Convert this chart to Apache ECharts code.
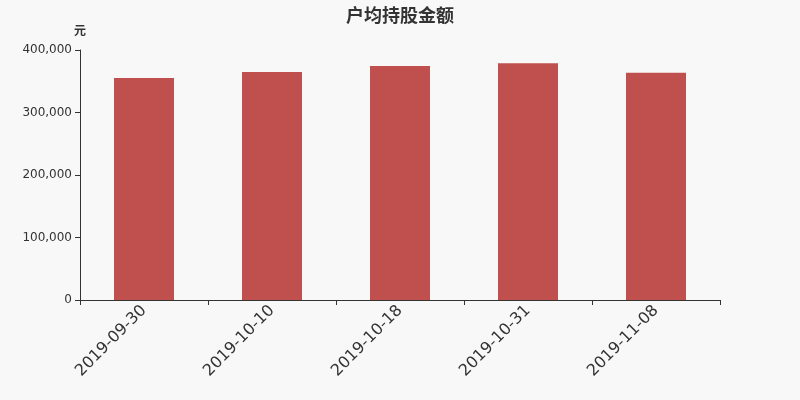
<!DOCTYPE html>
<html>
<head>
<meta charset="utf-8">
<script src="https://cdn.jsdelivr.net/npm/echarts@6/dist/echarts.min.js"></script>
<style>
html,body{margin:0;padding:0;background:#f8f8f8;}
#main{width:800px;height:400px;}
</style>
</head>
<body>
<div id="main"></div>
<script>
var categories = ['2019-09-30','2019-10-10','2019-10-18','2019-10-31','2019-11-08'];
var values = [355200, 364800, 374400, 378900, 363700];
var yTicks = [0, 100000, 200000, 300000, 400000];

var myChart = echarts.init(document.getElementById('main'));
myChart.setOption({
	backgroundColor: '#f8f8f8',
	title: {
		text: '户均持股金额',
		left: 'center',
		top: 1,
		textStyle: {fontSize: 18, fontWeight: 'bold', color: '#333', fontFamily: 'Noto Sans CJK SC'}
	},
	grid: {left: 80, right: 80, top: 50, bottom: 100},
	xAxis: {
		type: 'category',
		data: categories,
		axisLine: {lineStyle: {color: '#333'}},
		axisTick: {show: true, alignWithLabel: false, lineStyle: {color: '#333'}},
		axisLabel: {rotate: 45, fontSize: 16, color: '#333', margin: 8, fontFamily: 'DejaVu Sans'}
	},
	yAxis: {
		type: 'value',
		name: '元',
		nameGap: 14,
		nameTextStyle: {color: '#333', fontSize: 12, fontWeight: 'bold', align: 'center', fontFamily: 'Noto Sans CJK SC'},
		min: yTicks[0],
		max: yTicks[yTicks.length - 1],
		interval: 100000,
		splitLine: {show: false},
		axisLine: {show: true, lineStyle: {color: '#333'}},
		axisTick: {show: true, lineStyle: {color: '#333'}},
		axisLabel: {
			color: '#333', fontSize: 12, fontFamily: 'DejaVu Sans',
			formatter: function(v){ return v.toLocaleString('en-US'); }
		}
	},
	series: [{
		type: 'bar',
		data: values,
		barWidth: 60,
		itemStyle: {color: '#c0504d'}
	}]
});
</script>
</body>
</html>
